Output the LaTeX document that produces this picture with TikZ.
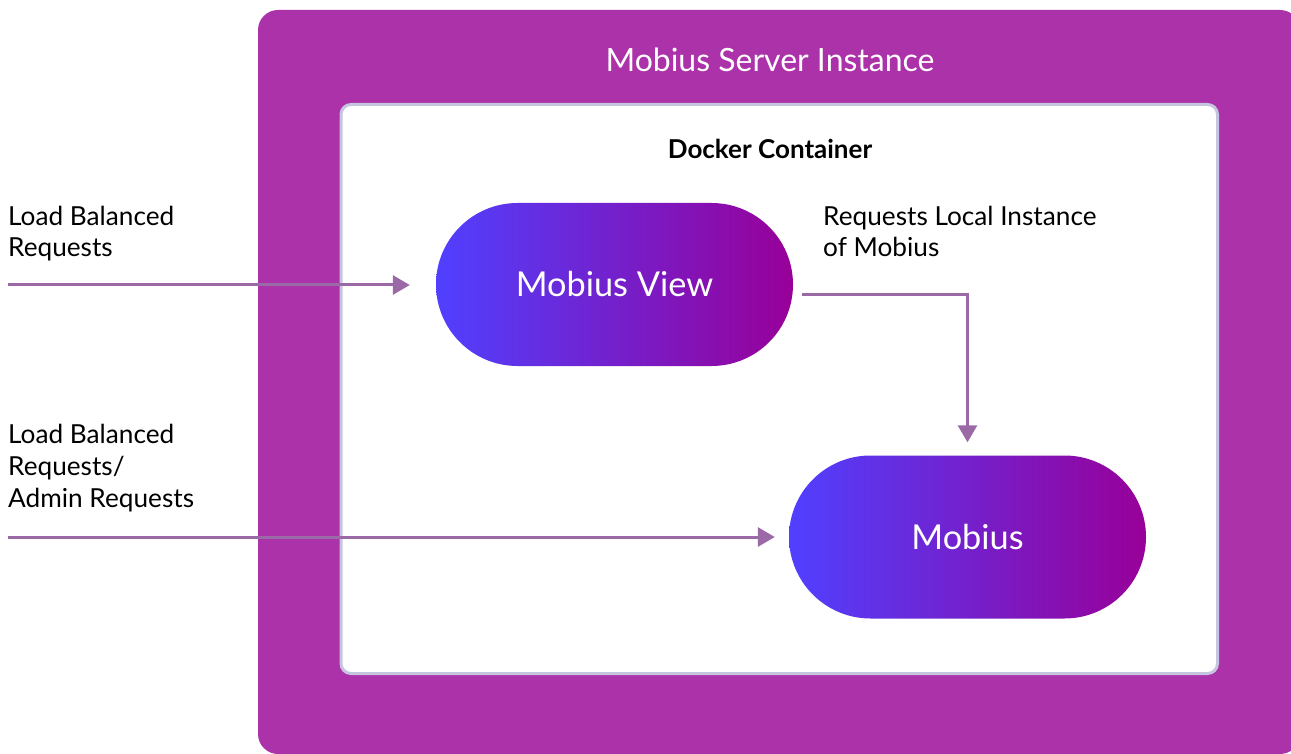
\documentclass[tikz,border=0pt]{standalone}
\usepackage{fontspec}
\setmainfont{Lato}
\usetikzlibrary{arrows.meta,shapes.misc}
\definecolor{server}{RGB}{172,50,170}
\definecolor{dockerline}{RGB}{197,197,224}
\definecolor{flowline}{RGB}{155,106,166}
\definecolor{pillleft}{RGB}{80,64,255}
\definecolor{pillright}{RGB}{152,0,152}
\tikzset{
	pill/.style={rounded rectangle, minimum width=357pt, minimum height=163pt, inner sep=0pt,
		left color=pillleft, right color=pillright, text=white, font=\fontsize{34.3}{40}\selectfont},
	flow/.style={draw=flowline, line width=3pt, -{Triangle[length=17pt,width=19pt]}},
	reqtext/.style={anchor=base west, align=left, inner sep=0pt, font=\fontsize{26.2}{32}\selectfont}
}
\begin{document}
\begin{tikzpicture}[x=1pt,y=-1pt]
		\useasboundingbox (0,0) rectangle (1291,754);
		\clip (0,0) rectangle (1291,754);
		%server instance
		\fill[server, rounded corners=20pt] (258,10) rectangle (1300,754);
		\node[text=white, font=\fontsize{32}{38}\selectfont] (server) at (770,60) {Mobius Server Instance};
		%docker container
		\draw[dockerline, line width=3pt, fill=white, rounded corners=10pt] (341,104.5) rectangle (1217.5,673.5);
		\node[font=\bfseries\fontsize{26}{30}\selectfont] (docker) at (770,149) {Docker Container};
		%services
		\node[pill] (view) at (614.5,284.5) {Mobius View};
		\node[pill] (mobius) at (967.5,537) {Mobius};
		%request labels (base = last line)
		\node[reqtext] (lbtext) at (8,257) {Load Balanced\\Requests};
		\node[reqtext] (admintext) at (8,507) {Load Balanced\\Requests/\\Admin Requests};
		\node[reqtext] (localtext) at (823,257) {Requests Local Instance\\of Mobius};
		%requests
		\coordinate (lbin) at (8,285);
		\coordinate (adminin) at (8,537);
		\coordinate (viewout) at (802,294);
		\draw[flow, shorten >=26pt] (lbin) -- (lbin -| view.west);
		\draw[flow, shorten >=14pt] (adminin) -- (adminin -| mobius.west);
		\draw[flow, shorten >=13pt] (viewout) -| (mobius.north);
	\end{tikzpicture}
\end{document}
